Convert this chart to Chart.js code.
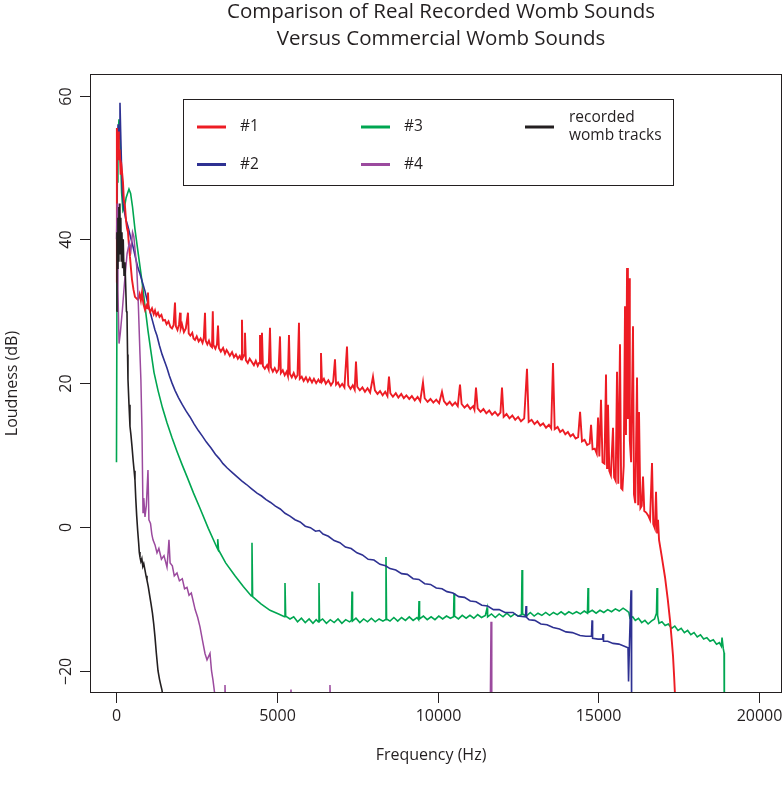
<!DOCTYPE html>
<html lang="en">
<head>
<meta charset="UTF-8" />
<title>Comparison of Real Recorded Womb Sounds Versus Commercial Womb Sounds</title>
<script src="https://cdn.jsdelivr.net/npm/chart.js"></script>
<style>
  body { margin: 0; background: white; }
  canvas { display: block; }
</style>
</head>
<body>
<canvas id="wombChart" width="783" height="789"></canvas>
<script>
// axis ticks and labels
const xTicks = [0, 5000, 10000, 15000, 20000];
const yTicks = [-20, 0, 20, 40, 60];
const titleLines = ['Comparison of Real Recorded Womb Sounds', 'Versus Commercial Womb Sounds'];
const xTitle = 'Frequency (Hz)';
const yTitle = 'Loudness (dB)';
const seriesNames = ['#1', '#2', '#3', '#4', 'recorded womb tracks'];

// spectra, [frequency Hz, loudness dB]
const track1 = [
  [0,34],[12,55.5],[30,53],[50,55],[75,51],[100,52.5],[130,49],[160,50],[202,48],[230,45.5],[265,44.6],[300,42.5],
  [330,41.5],[358,41],[390,39],[420,37.6],[450,36],[483,34.4],[530,33],[576,32],[620,31.8],[670,31.6],[720,32.4],
  [760,31.5],[794,32.6],[840,31],[888,30.2],[930,30.8],[960,30.4],[981,32.6],[1000,30.6],[1050,29.9],[1106,30.4],
  [1160,29.6],[1200,30.1],[1240,29.4],[1293,29.8],[1340,29.2],[1400,29.5],[1450,28.7],[1511,28.8],[1560,28.2],
  [1620,28.6],[1680,27.8],[1729,27.6],[1780,28.1],[1822,31.2],[1850,27.9],[1900,27.4],[1950,28.2],[1980,29.8],
  [2000,27.6],[2040,28.2],[2100,27.1],[2160,27.6],[2227,29.8],[2250,26.9],[2300,26.6],[2360,27.0],[2400,26.2],
  [2445,26.0],[2500,26.5],[2560,25.8],[2620,26.2],[2680,25.6],[2720,26.3],[2757,29.8],[2780,25.9],[2830,25.4],
  [2880,25.9],[2930,25.2],[2975,25.0],[3000,30.0],[3020,25.3],[3080,24.8],[3130,25.4],[3162,28.0],[3190,24.9],
  [3250,24.4],[3320,24.9],[3380,24.1],[3430,24.6],[3473,24.3],[3530,23.8],[3600,24.3],[3660,23.6],[3720,24.0],
  [3780,23.4],[3840,23.8],[3880,23.3],[3909,28.8],[3930,23.5],[3980,23.9],[4003,27.0],[4030,23.2],[4090,22.8],
  [4150,23.4],[4221,22.9],[4280,22.5],[4340,23.1],[4400,22.4],[4440,22.8],[4470,26.7],[4500,22.6],[4532,27.0],
  [4560,22.4],[4620,22.0],[4690,22.5],[4740,21.9],[4781,27.7],[4810,22.2],[4870,21.6],[4930,22.1],[4990,21.5],
  [5050,21.9],[5093,26.5],[5120,21.4],[5180,21.8],[5240,21.1],[5300,21.6],[5340,21.0],[5373,26.7],[5400,21.3],
  [5460,20.8],[5520,21.4],[5580,20.7],[5640,21.1],[5684,28.4],[5710,20.6],[5770,20.9],[5830,20.3],[5900,20.8],
  [5960,20.2],[6020,20.7],[6090,20.1],[6150,20.6],[6220,20.0],[6290,20.5],[6340,20.1],[6370,24.2],[6400,20.2],
  [6460,20.6],[6520,19.9],[6600,20.4],[6680,19.7],[6750,20.2],[6806,23.3],[6840,19.8],[6900,20.1],[6960,19.5],
  [7030,19.9],[7100,19.4],[7180,25.1],[7220,19.7],[7290,19.2],[7360,19.7],[7420,19.1],[7460,23.0],[7500,19.5],
  [7580,19.0],[7660,19.4],[7740,18.8],[7820,19.3],[7900,18.7],[7990,20.9],[8050,19.0],[8130,18.5],[8210,18.9],
  [8290,18.3],[8370,18.8],[8440,18.2],[8488,20.9],[8530,18.6],[8610,18.1],[8700,18.6],[8780,18.0],[8870,18.5],
  [8950,17.9],[9030,18.3],[9120,17.8],[9200,18.2],[9290,17.6],[9380,18.1],[9460,17.5],[9547,20.1],[9600,17.9],
  [9690,17.4],[9780,17.8],[9870,17.3],[9960,17.7],[10050,17.2],[10139,18.8],[10200,17.5],[10290,17.0],[10380,17.4],
  [10460,16.9],[10550,17.3],[10630,16.8],[10700,19.8],[10750,17.1],[10840,16.6],[10930,17.0],[11020,16.4],
  [11110,16.8],[11150,16.3],[11198,19.4],[11250,16.5],[11340,16.0],[11430,16.4],[11520,15.8],[11610,16.2],
  [11700,15.6],[11790,16.0],[11880,15.5],[11960,15.9],[12008,19.4],[12060,15.3],[12150,15.7],[12240,15.1],
  [12330,15.5],[12420,14.9],[12510,15.3],[12600,14.7],[12700,15.1],[12787,22.0],[12840,14.6],[12930,14.9],
  [13020,14.3],[13110,14.7],[13200,14.1],[13290,14.4],[13380,13.8],[13470,14.2],[13540,13.7],[13597,22.8],
  [13650,13.6],[13740,13.9],[13820,13.2],[13900,13.5],[13980,12.9],[14060,13.2],[14140,12.6],[14220,12.9],
  [14300,12.3],[14380,12.5],[14440,16.0],[14500,11.9],[14580,12.1],[14660,11.4],[14740,11.6],[14782,14.2],
  [14830,10.8],[14900,10.9],[14960,10.2],[15000,15.2],[15040,9.8],[15092,17.7],[15140,9.0],[15200,8.8],
  [15248,21.2],[15280,8.2],[15310,17.0],[15350,7.8],[15400,7.2],[15466,13.8],[15500,6.9],[15550,6.4],[15591,21.6],
  [15630,6.0],[15684,25.4],[15720,5.4],[15760,5.2],[15800,8.5],[15840,30.7],[15870,12.8],[15903,36.0],[15930,15.0],
  [15965,34.6],[15990,12.0],[16030,9.0],[16089,27.9],[16120,4.5],[16160,3.3],[16214,20.8],[16250,3.0],[16276,16.0],
  [16320,2.6],[16360,2.9],[16401,7.0],[16440,2.2],[16500,2.0],[16560,1.6],[16620,1.0],[16681,8.9],[16720,0.4],
  [16770,-0.2],[16806,4.9],[16840,-0.9],[16868,1.0],[16900,-1.8],[16980,-4.0],[17086,-7.0],[17170,-10.0],
  [17242,-13.0],[17300,-16.0],[17336,-18.0],[17370,-20.8],[17398,-23.5],[17420,-26]
];

const track2 = [
  [0,44],[16,51.6],[50,56],[80,54],[109,59],[130,55],[155,50.5],[180,47],[210,45],[240,44],[290,42.8],[358,41.8],
  [440,40.3],[514,39],[590,37.5],[670,36],[732,35.2],[810,34],[888,32.8],[960,31.4],[1043,30],[1120,28.7],
  [1199,27.4],[1262,26.6],[1340,25.2],[1420,24],[1500,23],[1573,22.1],[1650,21],[1730,20],[1822,19],[1930,18],
  [2050,17],[2170,16.1],[2290,15.3],[2420,14.3],[2550,13.4],[2680,12.6],[2800,11.8],[2940,11],[3080,10.1],
  [3200,9.5],[3318,8.8],[3450,8.2],[3600,7.6],[3750,7.0],[3900,6.4],[4050,5.9],[4210,5.3],[4377,4.7],[4520,4.3],
  [4660,3.8],[4800,3.4],[4950,2.9],[5100,2.5],[5250,1.9],[5404,1.5],[5560,1.0],[5720,0.7],[5880,0.1],[6040,-0.1],
  [6200,-0.6],[6320,-0.5],[6432,-1.0],[6600,-1.3],[6780,-1.9],[6960,-2.2],[7130,-2.8],[7310,-3.0],[7491,-3.6],
  [7660,-3.9],[7840,-4.5],[8020,-4.6],[8207,-5.2],[8380,-5.4],[8519,-5.8],[8700,-6.0],[8880,-6.5],[9060,-6.6],
  [9240,-7.2],[9420,-7.3],[9600,-7.9],[9780,-8.0],[9960,-8.5],[10140,-8.6],[10295,-9.0],[10480,-9.2],[10660,-9.7],
  [10840,-9.8],[11020,-10.3],[11200,-10.4],[11380,-10.9],[11560,-11.0],[11740,-11.5],[11920,-11.5],[12100,-11.9],
  [12351,-11.9],[12500,-12.4],[12740,-12.5],[12757,-11.0],[12775,-12.6],[12850,-12.9],[13030,-13.0],[13220,-13.5],
  [13410,-13.6],[13600,-14.0],[13800,-14.2],[14000,-14.6],[14200,-14.7],[14439,-15.1],[14620,-15.2],[14795,-15.2],
  [14813,-13.0],[14830,-15.5],[15000,-15.6],[15140,-15.6],[15155,-14.9],[15170,-15.9],[15300,-15.9],[15467,-16.2],
  [15650,-16.3],[15820,-16.6],[15933,-16.8],[15950,-21.5],[15980,-16.0],[16027,-8.8],[16045,-24],[16060,-30]
];

const track3 = [
  [0,9],[14,9],[25,48],[45,54],[78,56.7],[100,55],[125,52],[160,46.5],[200,44],[250,44.5],[300,45.8],[389,47],
  [440,46.4],[500,44.5],[576,41.4],[690,37.6],[794,34.2],[880,31],[981,27.3],[1060,24.8],[1168,21.5],[1293,19],
  [1430,16.6],[1573,14.5],[1730,12.4],[1885,10.5],[2040,8.7],[2196,7],[2400,4.7],[2601,2.6],[2860,-0.2],
  [3131,-2.9],[3145,-3.1],[3162,-1.7],[3180,-3.2],[3400,-5],[3691,-6.8],[3950,-8.3],[4200,-9.6],[4221,-2.2],
  [4240,-9.7],[4500,-10.7],[4782,-11.6],[5050,-12.1],[5230,-12.5],[5249,-7.8],[5270,-12.4],[5405,-12.8],
  [5520,-12.5],[5640,-13.2],[5760,-12.7],[5880,-13.3],[6000,-12.8],[6120,-13.4],[6220,-12.9],[6290,-13.2],
  [6308,-7.8],[6325,-13.1],[6420,-12.8],[6540,-13.4],[6660,-12.9],[6780,-13.3],[6900,-12.8],[7020,-13.4],
  [7140,-12.9],[7260,-13.2],[7320,-13.0],[7336,-9.0],[7352,-13.1],[7460,-12.7],[7580,-13.3],[7700,-12.8],
  [7820,-13.2],[7940,-12.7],[8060,-13.2],[8180,-12.8],[8300,-13.1],[8380,-12.9],[8395,-4.2],[8412,-12.8],
  [8520,-13.1],[8640,-12.6],[8760,-13.1],[8880,-12.6],[9000,-13.0],[9120,-12.5],[9240,-13.0],[9360,-12.6],
  [9410,-12.9],[9423,-10.3],[9440,-12.8],[9560,-12.4],[9680,-12.9],[9800,-12.5],[9920,-12.9],[10040,-12.4],
  [10160,-12.8],[10280,-12.4],[10400,-12.7],[10500,-12.5],[10514,-9.2],[10530,-12.4],[10650,-12.8],[10770,-12.3],
  [10890,-12.7],[11010,-12.3],[11130,-12.7],[11250,-12.2],[11370,-12.6],[11490,-12.3],[11542,-11.3],[11560,-12.5],
  [11680,-12.1],[11800,-12.6],[11920,-12.1],[12040,-12.5],[12160,-12.0],[12280,-12.5],[12400,-12.1],[12520,-12.4],
  [12615,-12.2],[12632,-6.0],[12650,-12.1],[12770,-12.4],[12890,-11.9],[13010,-12.4],[13130,-12.0],[13250,-12.3],
  [13370,-11.9],[13490,-12.3],[13610,-11.9],[13730,-12.2],[13850,-11.8],[13970,-12.2],[14090,-11.8],[14210,-12.1],
  [14330,-11.8],[14450,-12.1],[14570,-11.7],[14670,-12.0],[14688,-8.5],[14705,-11.9],[14820,-11.6],[14940,-12.0],
  [15060,-11.6],[15180,-11.9],[15300,-11.5],[15420,-11.8],[15540,-11.4],[15660,-11.7],[15780,-11.3],[15880,-11.6],
  [15960,-11.9],[15996,-12.7],[16080,-12.5],[16160,-13.0],[16260,-12.7],[16360,-13.3],[16460,-13.0],[16560,-13.5],
  [16660,-13.1],[16760,-12.8],[16820,-12.0],[16837,-8.5],[16855,-12.3],[16900,-13.4],[16990,-13.2],[17090,-13.7],
  [17190,-13.5],[17290,-14.1],[17390,-13.8],[17490,-14.4],[17590,-14.1],[17690,-14.7],[17790,-14.4],[17890,-15.0],
  [17990,-14.7],[18090,-15.3],[18190,-15.0],[18290,-15.6],[18390,-15.4],[18490,-15.9],[18590,-15.7],[18690,-16.3],
  [18780,-16.1],[18840,-16.6],[18862,-15.4],[18900,-16.9],[18925,-17.5],[18935,-30]
];

const track4 = [
  [0,40],[20,45],[45,33],[80,25.5],[120,27],[180,30],[250,34],[330,38],[400,39.5],[450,38.5],[500,41],[540,40.4],
  [590,38],[630,36.2],[680,31],[732,24],[760,20.5],[794,13.5],[826,2],[850,4],[888,1.4],[930,3],[981,7.9],
  [1010,1],[1060,0.5],[1100,-1],[1137,-1.8],[1200,-2.5],[1262,-3.6],[1320,-3],[1400,-4.5],[1480,-4],[1573,-5.6],
  [1600,-4],[1635,-1.8],[1670,-5],[1740,-5.4],[1800,-6.8],[1885,-6.4],[1960,-7.5],[2050,-7.2],[2120,-8.6],
  [2196,-8.4],[2260,-9.5],[2330,-9.2],[2383,-10.2],[2450,-11.5],[2530,-12.6],[2601,-13.9],[2680,-15.8],
  [2757,-17.6],[2820,-18.5],[2913,-17.6],[2960,-20],[3006,-21.3],[3068,-23.5],[3120,-27],[3350,-27],[3380,-22],
  [3410,-27],[5400,-27],[5436,-22.6],[5470,-27],[6620,-27],[6650,-22],[6680,-27],[11640,-27],[11666,-13.2],
  [11690,-27],[12500,-27]
];

const recorded = [
  [0,30],[15,41],[30,36],[45,43],[60,37],[75,44.5],[90,38],[105,45],[120,39],[135,43],[150,37],[170,41],[190,36],
  [210,40],[235,35],[265,36.8],[290,33],[310,30],[327,29.8],[345,24],[358,20.5],[390,17],[420,14],[450,12.8],
  [483,11.2],[520,9.2],[550,7.8],[576,6.5],[600,4],[630,1.5],[660,-0.5],[690,-2.2],[710,-3.5],[732,-4.2],
  [760,-4.8],[790,-4.4],[820,-5.5],[850,-5.1],[888,-6],[920,-6.8],[950,-7.4],[990,-8.3],[1043,-9.8],[1080,-10.8],
  [1120,-12],[1160,-13.5],[1199,-15.3],[1240,-17.5],[1293,-20],[1340,-21.2],[1380,-22],[1417,-22.7],[1440,-23.5],
  [1460,-27]
];

const seriesData = [track1, track2, track3, track4, recorded];
const seriesColors = ['#ed1c24', '#2e3192', '#00a651', '#9b4a9e', '#231f20'];
const lineWidths = [1.9, 1.6, 1.6, 1.5, 1.6];
const drawOrder = [3, 4, 5, 2, 1];

const FONT = '"Open Sans", "Liberation Sans", sans-serif';
const INK = '#231f20';

// box, axes, titles and legend drawn in the R style
const rFrame = {
  id: 'rFrame',
  afterDraw(chart) {
    const { ctx, chartArea: a, scales: { x, y } } = chart;
    ctx.save();
    ctx.strokeStyle = INK;
    ctx.fillStyle = INK;
    ctx.lineWidth = 1;
    ctx.strokeRect(a.left + 0.5, a.top + 0.5, a.right - a.left - 1, a.bottom - a.top - 1);

    ctx.font = '16px ' + FONT;
    ctx.textAlign = 'center';
    ctx.textBaseline = 'middle';
    xTicks.forEach(v => {
      const px = Math.round(x.getPixelForValue(v)) + 0.5;
      ctx.beginPath();
      ctx.moveTo(px, a.bottom);
      ctx.lineTo(px, a.bottom + 10);
      ctx.stroke();
      ctx.fillText(String(v), px, a.bottom + 23);
    });
    yTicks.forEach(v => {
      const py = Math.round(y.getPixelForValue(v)) + 0.5;
      ctx.beginPath();
      ctx.moveTo(a.left, py);
      ctx.lineTo(a.left - 10, py);
      ctx.stroke();
      ctx.save();
      ctx.translate(a.left - 24, py);
      ctx.rotate(-Math.PI / 2);
      ctx.fillText(v < 0 ? '\u2212' + Math.abs(v) : String(v), 0, 0);
      ctx.restore();
    });

    ctx.font = '16px ' + FONT;
    ctx.fillText(xTitle, (a.left + a.right) / 2 - 5, a.bottom + 62);
    ctx.save();
    ctx.translate(12, (a.top + a.bottom) / 2);
    ctx.rotate(-Math.PI / 2);
    ctx.fillText(yTitle, 0, 0);
    ctx.restore();

    ctx.font = '20.5px ' + FONT;
    ctx.fillText(titleLines[0], 441, 12);
    ctx.fillText(titleLines[1], 441, 39);

    // legend
    ctx.strokeRect(183.5, 99.5, 490, 86);
    const slots = [
      { x: 197, y: 127 }, { x: 197, y: 164.5 }, { x: 361, y: 127 }, { x: 361, y: 164.5 }, { x: 525, y: 127 }
    ];
    ctx.font = '15.5px ' + FONT;
    ctx.textAlign = 'left';
    chart.data.datasets.forEach((ds, i) => {
      const s = slots[i];
      ctx.strokeStyle = ds.borderColor;
      ctx.lineWidth = 3;
      ctx.beginPath();
      ctx.moveTo(s.x, s.y);
      ctx.lineTo(s.x + 29, s.y);
      ctx.stroke();
      ctx.fillStyle = INK;
      if (i < 4) {
        ctx.fillText(ds.label, s.x + 43, s.y);
      } else {
        const words = ds.label.split(' ');
        ctx.fillText(words[0], s.x + 44, s.y - 9);
        ctx.fillText(words.slice(1).join(' '), s.x + 44, s.y + 9);
      }
    });
    ctx.restore();
  }
};

new Chart(document.getElementById('wombChart'), {
  type: 'scatter',
  data: {
    datasets: seriesData.map((pts, i) => ({
      label: seriesNames[i],
      data: pts.map(p => ({ x: p[0], y: p[1] })),
      showLine: true,
      borderColor: seriesColors[i],
      borderWidth: lineWidths[i],
      pointRadius: 0,
      tension: 0,
      order: drawOrder[i]
    }))
  },
  options: {
    responsive: false,
    animation: false,
    devicePixelRatio: 1,
    layout: { padding: { left: 90, top: 74, right: 1, bottom: 96 } },
    plugins: { legend: { display: false }, title: { display: false }, tooltip: { enabled: false } },
    scales: {
      x: { type: 'linear', min: -825, max: 20730, display: false },
      y: { type: 'linear', min: -23.1, max: 63, display: false }
    }
  },
  plugins: [rFrame]
});
</script>
</body>
</html>
